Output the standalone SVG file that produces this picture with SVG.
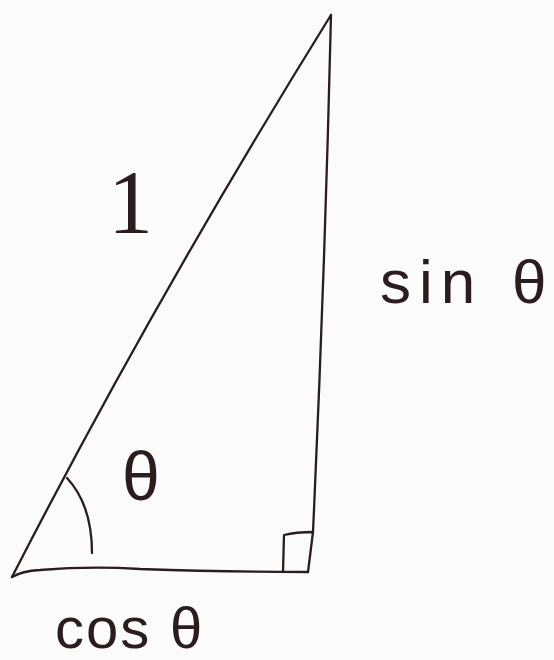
<svg xmlns="http://www.w3.org/2000/svg" width="554" height="660" viewBox="0 0 554 660">
<style>
.ln{fill:none;stroke:#2b1d1d;stroke-width:2.3;stroke-linecap:round;stroke-linejoin:round}
.lb{fill:#2b1d1d;font-family:"Liberation Sans",Arial,sans-serif}
</style>
<rect width="554" height="660" fill="#fbfbfb"/>
<g id="triangle">
<path class="ln" d="M12,577 Q154,300 331,15"/>
<path class="ln" d="M331,15 Q325,270 313,532"/>
<path class="ln" d="M12,577 Q22,571 40,570 Q90,566 140,569 Q230,572 308,572"/>
</g>
<g id="right-angle">
<path class="ln" d="M283,572 L284,535 Q296,532 313,532 L308,572"/>
</g>
<g id="angle-arc">
<path class="ln" d="M67,478 Q92,505 92,553"/>
</g>
<g id="labels">
<text class="lb" x="108" y="233" style="font-family:'Liberation Serif',serif" font-size="90">1</text>
<text class="lb" x="122" y="500" font-size="68">θ</text>
<text class="lb" x="380" y="303" font-size="62" letter-spacing="8">sin <tspan x="512" letter-spacing="0">θ</tspan></text>
<text class="lb" x="55" y="648" font-size="58" letter-spacing="2">cos <tspan x="170" letter-spacing="0">θ</tspan></text>
</g>
</svg>
